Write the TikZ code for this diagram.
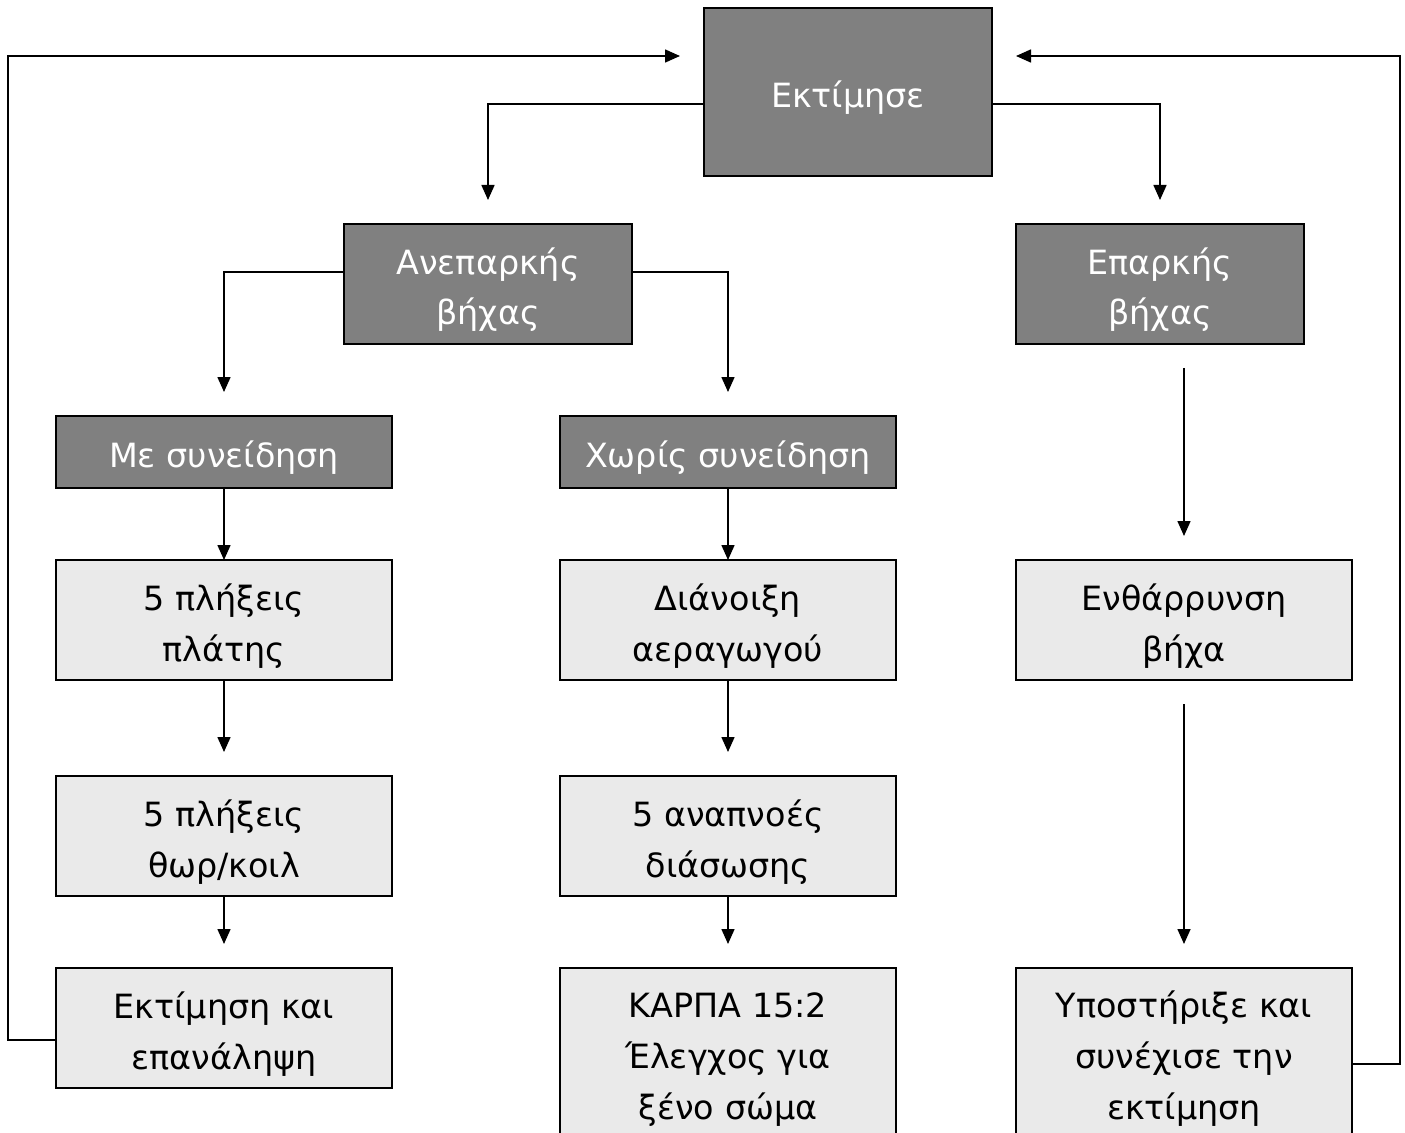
\documentclass[tikz,border=0pt]{standalone}
\usepackage{fontspec}
\setmainfont{DejaVu Sans}
\definecolor{darkfill}{HTML}{808080}
\definecolor{lightfill}{HTML}{EAEAEA}
\usetikzlibrary{positioning, arrows.meta}
\tikzset{
    boxtext/.style={align=center, outer sep=0pt, inner ysep=0pt,
        font=\fontsize{19}{29}\selectfont,
        text height=0.82cm, text depth=0.2cm},
    twolines/.style={text height=1.84cm, text depth=0.2cm},
    threelines/.style={text height=2.6cm, text depth=0.2cm},
    darkbox/.style={boxtext, draw, line width=1.1pt, fill=darkfill, text=white,
        minimum width=5.76cm, minimum height=2.4cm},
    lightbox/.style={boxtext, twolines, draw, line width=1.1pt, fill=lightfill,
        minimum width=6.72cm, minimum height=2.4cm},
    arr/.style={line width=0.9pt, -{Triangle[length=0.3cm,width=0.26cm]}}
}
\begin{document}
\begin{tikzpicture}
    \useasboundingbox (0,0) rectangle (28.1,-22.66);
    % top and second row
    \node [darkbox, minimum height=3.36cm] (ektimise) at (16.96,-1.84) {Εκτίμησε};
    \node [darkbox, twolines] (aneparkis) at (9.76,-5.68) {Ανεπαρκής\\βήχας};
    \node [darkbox, twolines] (eparkis) at (23.2,-5.68) {Επαρκής\\βήχας};
    % left column
    \node [darkbox, minimum width=6.72cm, minimum height=1.44cm] (mesyn) at (4.48,-9.04) {Με συνείδηση};
    \node [lightbox, below=1.44cm of mesyn] (plates) {5 πλήξεις\\πλάτης};
    \node [lightbox, below=1.92cm of plates] (thorkoil) {5 πλήξεις\\θωρ/κοιλ};
    \node [lightbox, below=1.44cm of thorkoil] (epanalipsi) {Εκτίμηση και\\επανάληψη};
    % middle column
    \node [darkbox, minimum width=6.72cm, minimum height=1.44cm] (xwrissyn) at (14.56,-9.04) {Χωρίς συνείδηση};
    \node [lightbox, below=1.44cm of xwrissyn] (dianoixi) {Διάνοιξη\\αεραγωγού};
    \node [lightbox, below=1.92cm of dianoixi] (anapnoes) {5 αναπνοές\\διάσωσης};
    \node [lightbox, threelines, below=1.44cm of anapnoes, minimum height=3.64cm] (karpa) {ΚΑΡΠΑ 15:2\\Έλεγχος για\\ξένο σώμα};
    % right column
    \node [lightbox] (enthar) at (23.68,-12.4) {Ενθάρρυνση\\βήχα};
    \node [lightbox, threelines, minimum height=3.64cm, anchor=north] (ypostirixe) at (23.68,-19.36) {Υποστήριξε και\\συνέχισε την\\εκτίμηση};
    % loop corners
    \coordinate (loopL) at (0.16,-1.12);
    \coordinate (loopR) at (28.0,-1.12);
    % connectors
    \draw [arr, shorten >=0.48cm] ([yshift=-0.24cm]ektimise.west) -| (aneparkis.north);
    \draw [arr, shorten >=0.48cm] ([yshift=-0.24cm]ektimise.east) -| (eparkis.north);
    \draw [arr, shorten >=0.48cm] ([yshift=0.24cm]aneparkis.west) -| (mesyn.north);
    \draw [arr, shorten >=0.48cm] ([yshift=0.24cm]aneparkis.east) -| (xwrissyn.north);
    \draw [arr] (mesyn) -- (plates);
    \draw [arr, shorten >=0.48cm] (plates) -- (thorkoil);
    \draw [arr, shorten >=0.48cm] (thorkoil) -- (epanalipsi);
    \draw [arr] (xwrissyn) -- (dianoixi);
    \draw [arr, shorten >=0.48cm] (dianoixi) -- (anapnoes);
    \draw [arr, shorten >=0.48cm] (anapnoes) -- (karpa);
    \draw [arr, shorten <=0.48cm, shorten >=0.48cm] (enthar.north |- eparkis.south) -- (enthar.north);
    \draw [arr, shorten <=0.48cm, shorten >=0.48cm] (enthar) -- (ypostirixe);
    \draw [arr, shorten >=0.48cm] ([yshift=-0.24cm]epanalipsi.west) -| (loopL) -- ([yshift=0.72cm]ektimise.west);
    \draw [arr, shorten >=0.48cm] ([yshift=-0.1cm]ypostirixe.east) -| (loopR) -- ([yshift=0.72cm]ektimise.east);
\end{tikzpicture}
\end{document}
